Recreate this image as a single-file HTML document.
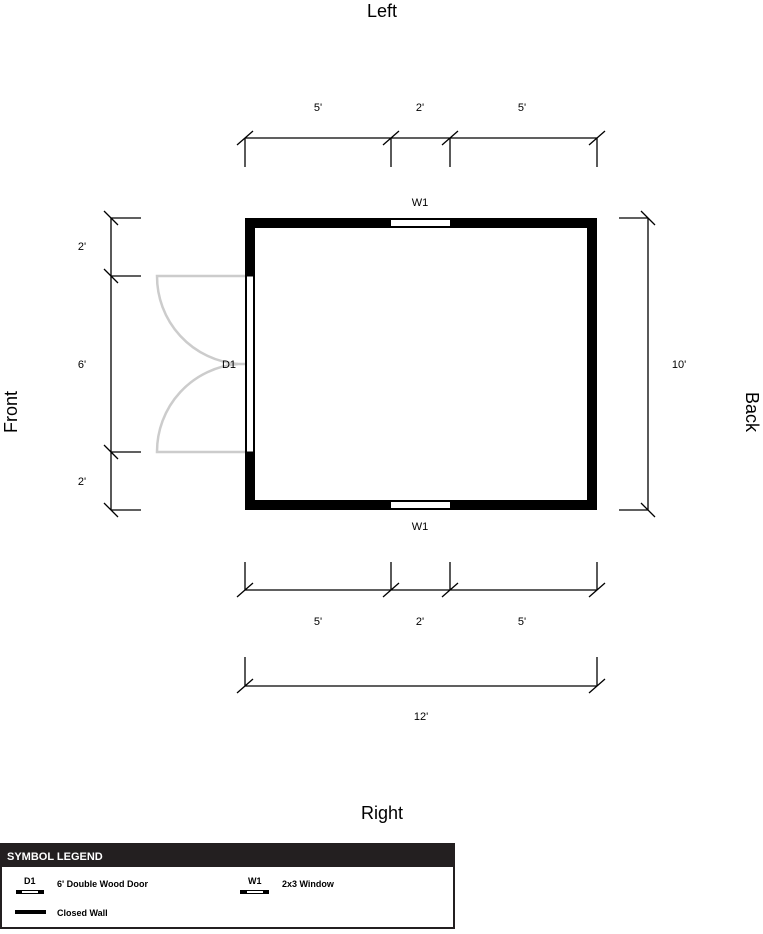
<!DOCTYPE html>
<html><head><style>
body{margin:0;background:#fff;width:763px;height:929px;overflow:hidden;font-family:"Liberation Sans",Arial,sans-serif}
</style></head><body>
<svg width="763" height="929" viewBox="0 0 763 929" xmlns="http://www.w3.org/2000/svg" font-family="Liberation Sans, Arial, sans-serif">
<g font-size="18" fill="#000" text-anchor="middle">
<text x="382" y="17">Left</text>
<text x="382" y="819">Right</text>
<text transform="translate(17,412) rotate(-90)">Front</text>
<text transform="translate(746,412) rotate(90)">Back</text>
</g>
<g stroke="#000" stroke-width="1.3" fill="none">
<line x1="245" y1="138" x2="597" y2="138"/>
<line x1="245" y1="138" x2="245" y2="167"/><line x1="391" y1="138" x2="391" y2="167"/><line x1="450" y1="138" x2="450" y2="167"/><line x1="597" y1="138" x2="597" y2="167"/>
<path d="M237 145L253 131M383 145L399 131M442 145L458 131M589 145L605 131"/>
<line x1="245" y1="590" x2="597" y2="590"/>
<line x1="245" y1="562" x2="245" y2="590"/><line x1="391" y1="562" x2="391" y2="590"/><line x1="450" y1="562" x2="450" y2="590"/><line x1="597" y1="562" x2="597" y2="590"/>
<path d="M237 597L253 583M383 597L399 583M442 597L458 583M589 597L605 583"/>
<line x1="245" y1="686" x2="597" y2="686"/>
<line x1="245" y1="657" x2="245" y2="686"/><line x1="597" y1="657" x2="597" y2="686"/>
<path d="M237 693L253 679M589 693L605 679"/>
<line x1="111" y1="218" x2="111" y2="510"/>
<path d="M111 218H141M111 276H141M111 452H141M111 510H141"/>
<path d="M104 211L118 225M104 269L118 283M104 445L118 459M104 503L118 517"/>
<line x1="648" y1="218" x2="648" y2="510"/>
<path d="M619 218H648M619 510H648"/>
<path d="M641 211L655 225M641 503L655 517"/>
</g>
<rect x="250" y="223" width="342" height="282" fill="none" stroke="#000" stroke-width="10"/>
<rect x="391" y="220" width="59" height="6" fill="#fff"/>
<rect x="391" y="502" width="59" height="6" fill="#fff"/>
<rect x="246.5" y="276" width="7" height="176" fill="#fff" stroke="#000" stroke-width="1"/>
<g stroke="#ccc" stroke-width="2.5" fill="none">
<path d="M245 276H157A88 88 0 0 0 238 364H245"/>
<path d="M245 452H157A88 88 0 0 1 238 364"/>
</g>
<g font-size="11" text-anchor="middle" fill="#000">
<text x="318" y="111">5'</text><text x="420" y="111">2'</text><text x="522" y="111">5'</text>
<text x="318" y="625">5'</text><text x="420" y="625">2'</text><text x="522" y="625">5'</text>
<text x="421" y="720">12'</text>
<text x="82" y="250">2'</text><text x="82" y="368">6'</text><text x="82" y="485">2'</text>
<text x="679" y="368">10'</text>
<text x="420" y="206">W1</text><text x="420" y="530">W1</text>
<text x="229" y="368">D1</text>
</g>
<rect x="1" y="844" width="453" height="84" fill="#fff" stroke="#231f20" stroke-width="2"/>
<rect x="0" y="843" width="455" height="24" fill="#231f20"/>
<text x="7" y="860" font-size="11" font-weight="bold" fill="#fff">SYMBOL LEGEND</text>
<g font-size="9" font-weight="bold" fill="#000">
<text x="24" y="884">D1</text>
<text x="57" y="887">6' Double Wood Door</text>
<text x="248" y="884">W1</text>
<text x="282" y="887">2x3 Window</text>
<text x="57" y="916">Closed Wall</text>
</g>
<rect x="16" y="890" width="28" height="4" fill="#000"/><rect x="22" y="891" width="16" height="2" fill="#fff"/>
<rect x="240" y="890" width="29" height="4" fill="#000"/><rect x="247" y="891" width="16" height="2" fill="#fff"/>
<rect x="15" y="910" width="31" height="4" fill="#000"/>
</svg>
</body></html>
